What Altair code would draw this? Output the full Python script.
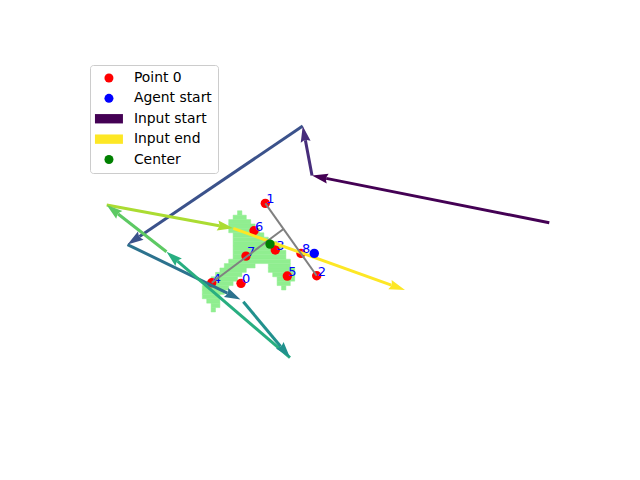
import altair as alt
import numpy as np
import pandas as pd

# ---------------- data (grid units) ----------------
point_ids = [0, 1, 2, 3, 4, 5, 6, 7, 8]
point_x = [36.80, 42.32, 54.00, 44.59, 30.14, 47.32, 39.75, 37.93, 50.43]
point_y = [32.50, 50.68, 34.23, 40.07, 32.64, 34.16, 44.45, 38.70, 39.32]

agent_start = [53.45, 39.32]
center_pt = [43.39, 41.43]

# input arrows (tail -> tip)
arrow_x0 = [106.86, 52.93, 50.82, 11.00, 37.32, 47.93, 19.86, 6.27, 35.05]
arrow_y0 = [46.27, 57.00, 68.25, 41.32, 28.32, 15.64, 39.68, 50.30, 45.00]
arrow_x1 = [52.93, 50.82, 11.00, 36.68, 47.93, 19.86, 6.27, 35.05, 74.07]
arrow_y1 = [57.00, 68.25, 41.32, 28.86, 15.64, 39.68, 50.30, 45.00, 30.98]

# gray lines
line_x0 = [42.32, 30.14]
line_y0 = [50.68, 32.64]
line_x1 = [54.00, 46.45]
line_y1 = [34.23, 44.84]

# occupancy mask: row index, first column, last column
mask_rows = [0, 1, 2, 3, 4, 5, 6, 7, 8, 9, 10, 11, 12, 12, 13, 13, 14, 14,
             15, 15, 16, 16, 17, 17, 18, 19, 20, 21, 22]
mask_c0 = [2, 1, 0, 0, 0, 1, 1, 1, 1, 1, 1, 0, -1, 9, -2, 9, -3, 10,
           -4, 11, -5, 11, -6, 12, -6, -6, -5, -4, -4]
mask_c1 = [2, 3, 4, 5, 6, 7, 8, 10, 11, 12, 12, 13, 5, 13, 3, 14, 2, 14,
           1, 14, 0, 13, -1, 12, -2, -3, -3, -3, -4]
MASK_X0 = 34
MASK_Y0 = 49

legend_labels = ["Point 0", "Agent start", "Input start", "Input end", "Center"]
legend_colors = ["#ff0000", "#0000ff", "#440154", "#fde725", "#008000"]
RECT = "M-3.11,-1.04H3.11V1.04H-3.11Z"
legend_shapes = ["circle", "circle", RECT, RECT, "circle"]

# ---------------- scales ----------------
XD = [-17.98, 127.48]
YD = [-12.18, 96.89]
W, H = 640, 480
PX = W / (XD[1] - XD[0])
X = alt.Scale(domain=XD, nice=False, zero=False)
Y = alt.Scale(domain=YD, nice=False, zero=False)
VIR = alt.Scale(scheme="viridis", domain=[0, 8])

mask_df = pd.DataFrame({"r": mask_rows, "c0": mask_c0, "c1": mask_c1})
mask_df["x"] = MASK_X0 + mask_df["c0"]
mask_df["x2"] = MASK_X0 + mask_df["c1"] + 1
mask_df["y"] = MASK_Y0 - mask_df["r"]
mask_df["y2"] = MASK_Y0 - mask_df["r"] - 1

pts_df = pd.DataFrame({"id": point_ids, "x": point_x, "y": point_y, "kind": "Point 0"})
sp_df = pd.DataFrame({"x": [agent_start[0], center_pt[0]],
                      "y": [agent_start[1], center_pt[1]],
                      "kind": ["Agent start", "Center"]})

arr = pd.DataFrame({"step": list(range(len(arrow_x0))), "x0": arrow_x0, "y0": arrow_y0,
                    "x1": arrow_x1, "y1": arrow_y1})
dx = arr["x1"] - arr["x0"]
dy = arr["y1"] - arr["y0"]
L = np.hypot(dx, dy)
head_axis = 14.5 / PX
arr["xs"] = arr["x1"] - dx / L * head_axis
arr["ys"] = arr["y1"] - dy / L * head_axis
arr["ang"] = (np.degrees(np.arctan2(dx, dy)) + 360) % 360

lines_df = pd.DataFrame({"x0": line_x0, "y0": line_y0, "x1": line_x1, "y1": line_y1})

legend = alt.Legend(title=None, orient="none", legendX=90, legendY=65, padding=6,
                    strokeColor="#cccccc", fillColor="white", cornerRadius=3,
                    symbolSize=81, symbolStrokeWidth=0, symbolOffset=6, labelOffset=18,
                    labelFont="DejaVu Sans", labelFontSize=13.9, labelColor="black",
                    rowPadding=5.4)
COLOR = alt.Color("kind:N", scale=alt.Scale(domain=legend_labels, range=legend_colors), legend=legend)
SHAPE = alt.Shape("kind:N", scale=alt.Scale(domain=legend_labels, range=legend_shapes), legend=legend)

HEAD = "M0,0L5,16L1.5,14.5L-1.5,14.5L-5,16Z"

mask = alt.Chart(mask_df).mark_rect(color="#90ee90", stroke="#90ee90", strokeWidth=0.5).encode(
    x=alt.X("x:Q", scale=X, axis=None), x2="x2:Q",
    y=alt.Y("y:Q", scale=Y, axis=None), y2="y2:Q")

red = alt.Chart(pts_df).mark_point(filled=True, size=88, opacity=1, strokeWidth=0).encode(
    x=alt.X("x:Q", scale=X, axis=None), y=alt.Y("y:Q", scale=Y, axis=None),
    color=COLOR, shape=SHAPE)

labels = alt.Chart(pts_df).mark_text(align="left", baseline="alphabetic", dx=1, fontSize=13,
                                     color="#0000ff", font="DejaVu Sans").encode(
    x=alt.X("x:Q", scale=X, axis=None), y=alt.Y("y:Q", scale=Y, axis=None), text="id:N")

shafts = alt.Chart(arr).mark_rule(strokeWidth=3, strokeCap="butt").encode(
    x=alt.X("x0:Q", scale=X, axis=None), y=alt.Y("y0:Q", scale=Y, axis=None),
    x2="xs:Q", y2="ys:Q",
    stroke=alt.Stroke("step:Q", scale=VIR, legend=None))

heads = alt.Chart(arr).mark_point(filled=True, shape=HEAD, size=4, opacity=1, strokeWidth=0).encode(
    x=alt.X("x1:Q", scale=X, axis=None), y=alt.Y("y1:Q", scale=Y, axis=None),
    angle=alt.Angle("ang:Q", scale=None),
    fill=alt.Fill("step:Q", scale=VIR, legend=None))

gray = alt.Chart(lines_df).mark_rule(color="#808080", strokeWidth=2).encode(
    x=alt.X("x0:Q", scale=X, axis=None), y=alt.Y("y0:Q", scale=Y, axis=None),
    x2="x1:Q", y2="y1:Q")

special = alt.Chart(sp_df).mark_point(filled=True, size=88, opacity=1, strokeWidth=0).encode(
    x=alt.X("x:Q", scale=X, axis=None), y=alt.Y("y:Q", scale=Y, axis=None),
    color=COLOR, shape=SHAPE)

chart = alt.layer(mask, red, labels, shafts, heads, gray, special).properties(
    width=W, height=H, padding=0, autosize="none", background="white"
).configure_view(stroke=None)

chart.save("out.html", embed_options={"renderer": "svg", "actions": False})
